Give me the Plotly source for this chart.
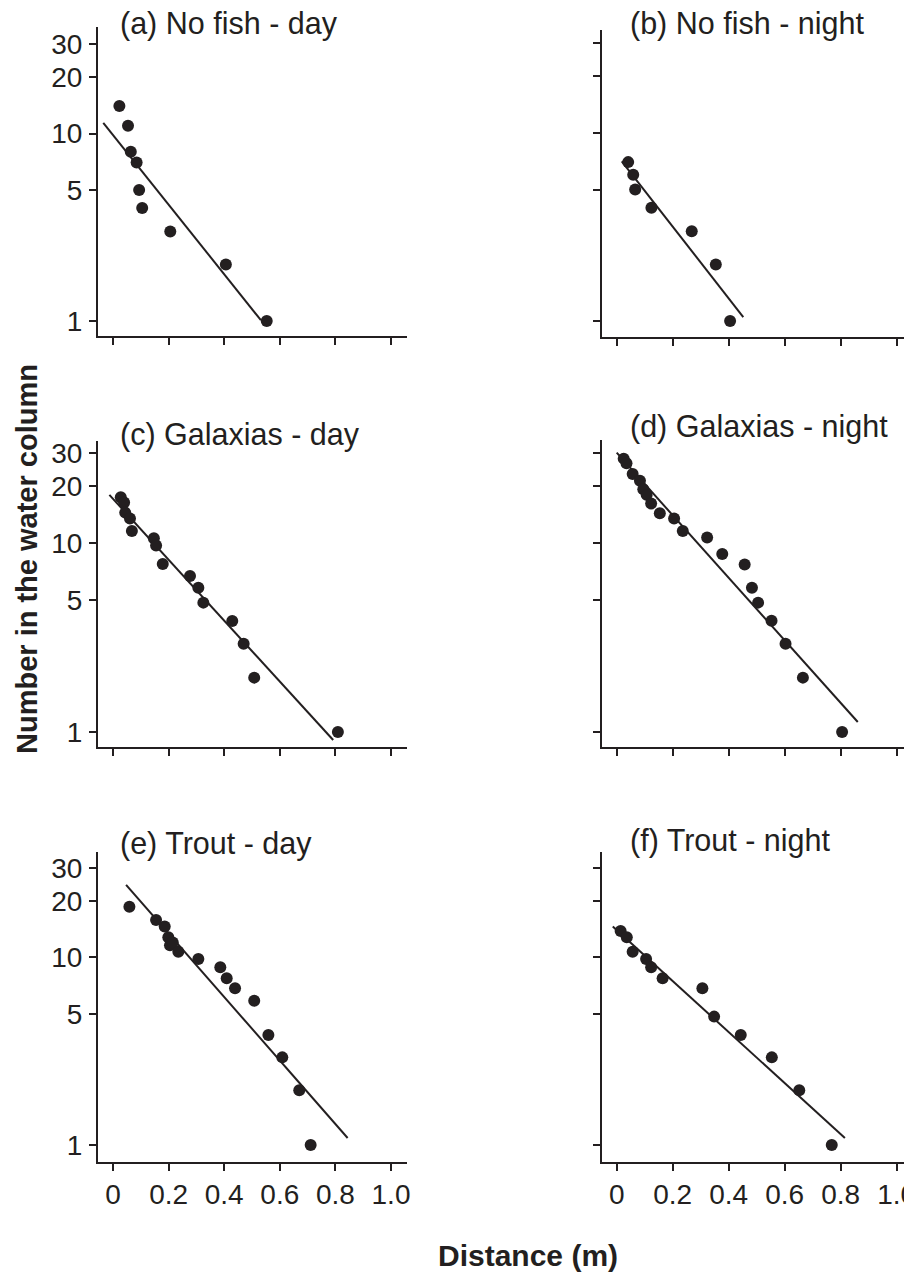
import plotly.graph_objects as go

W, H = 904, 1272

# ---------------- data ----------------
panel_titles = ["(a) No fish - day", "(b) No fish - night",
                "(c) Galaxias - day", "(d) Galaxias - night",
                "(e) Trout - day", "(f) Trout - night"]

a_x = [0.023, 0.054, 0.064, 0.085, 0.094, 0.105, 0.206, 0.406, 0.553]
a_y = [14, 11, 8, 7, 5, 4, 3, 2, 1]
a_fit_x = [-0.035, 0.532]
a_fit_y = [11.4, 1.01]

b_x = [0.041, 0.059, 0.066, 0.124, 0.268, 0.354, 0.405]
b_y = [7, 6, 5, 4, 3, 2, 1]
b_fit_x = [0.018, 0.452]
b_fit_y = [7.07, 1.05]

c_x = [0.028, 0.040, 0.044, 0.061, 0.068, 0.147, 0.155, 0.179, 0.277, 0.307,
       0.325, 0.429, 0.470, 0.508, 0.809]
c_y = [17.5, 16.4, 14.5, 13.5, 11.6, 10.6, 9.7, 7.75, 6.7, 5.8,
       4.84, 3.87, 2.93, 1.94, 1]
c_fit_x = [-0.013, 0.792]
c_fit_y = [18.0, 0.907]

d_x = [0.025, 0.035, 0.057, 0.083, 0.095, 0.107, 0.123, 0.154, 0.205, 0.236,
       0.323, 0.377, 0.457, 0.483, 0.505, 0.553, 0.603, 0.665, 0.805]
d_y = [28.0, 26.5, 23.2, 21.4, 19.3, 18.0, 16.2, 14.4, 13.5, 11.6,
       10.7, 8.75, 7.7, 5.8, 4.84, 3.88, 2.93, 1.94, 1]
d_fit_x = [0.0, 0.861]
d_fit_y = [30.1, 1.13]

e_x = [0.059, 0.155, 0.186, 0.199, 0.205, 0.215, 0.235, 0.307, 0.386, 0.409,
       0.439, 0.508, 0.559, 0.609, 0.670, 0.711]
e_y = [18.6, 15.8, 14.6, 12.8, 11.6, 12.0, 10.7, 9.8, 8.85, 7.73,
       6.84, 5.87, 3.85, 2.93, 1.96, 1]
e_fit_x = [0.047, 0.844]
e_fit_y = [24.3, 1.09]

f_x = [0.014, 0.036, 0.057, 0.105, 0.123, 0.164, 0.306, 0.348, 0.443, 0.554,
       0.652, 0.768]
f_y = [13.8, 12.8, 10.7, 9.8, 8.85, 7.73, 6.84, 4.83, 3.85, 2.93,
       1.96, 1]
f_fit_x = [-0.014, 0.815]
f_fit_y = [14.6, 1.09]

y_tickvals = [1, 5, 10, 20, 30]
y_ticktext = ["1", "5", "10", "20", "30"]
x_tickvals = [0, 0.2, 0.4, 0.6, 0.8, 1.0]
x_ticktext = ["0", "0.2", "0.4", "0.6", "0.8", "1.0"]

x_title = "Distance (m)"
y_title = "Number in the water column"

series = [(a_x, a_y, a_fit_x, a_fit_y), (b_x, b_y, b_fit_x, b_fit_y),
          (c_x, c_y, c_fit_x, c_fit_y), (d_x, d_y, d_fit_x, d_fit_y),
          (e_x, e_y, e_fit_x, e_fit_y), (f_x, f_y, f_fit_x, f_fit_y)]

# ---------------- layout geometry (pixels) ----------------
LEFT = dict(xl=(98, 407), x0=113, xu=278)
RIGHT = dict(xl=(601.7, 904), x0=616.7, xu=280)
geo = [
    dict(LEFT, yl=(27, 336), y1=321, yd=187.5, tt=(118, 24)),
    dict(RIGHT, yl=(30, 337), y1=321, yd=188.0, tt=(628, 24)),
    dict(LEFT, yl=(440.7, 746.7), y1=732, yd=188.9, tt=(118, 434)),
    dict(RIGHT, yl=(440, 746.7), y1=732, yd=188.9, tt=(628, 426)),
    dict(LEFT, yl=(852, 1161.7), y1=1145, yd=187.7, tt=(118, 843)),
    dict(RIGHT, yl=(852, 1161.7), y1=1145, yd=187.7, tt=(628, 840)),
]

INK = "#231f20"
FONT = "Liberation Sans, Arial, Helvetica, sans-serif"

fig = go.Figure()
layout = dict(
    template="none",
    width=W, height=H,
    margin=dict(l=0, r=0, t=0, b=0, pad=0),
    paper_bgcolor="white", plot_bgcolor="white",
    showlegend=False,
    font=dict(family=FONT, color=INK, size=28),
    annotations=[],
)

for i, (g, (sx, sy, fx, fy)) in enumerate(zip(geo, series)):
    n = i + 1
    xa = "xaxis" if n == 1 else f"xaxis{n}"
    ya = "yaxis" if n == 1 else f"yaxis{n}"
    xr = "x" if n == 1 else f"x{n}"
    yr = "y" if n == 1 else f"y{n}"

    xl0, xl1 = g["xl"]
    yt, yb = g["yl"]
    xdom = [xl0 / W, min(1.0, xl1 / W)]
    ydom = [1 - yb / H, 1 - yt / H]
    xrange = [(xl0 - g["x0"]) / g["xu"], (xl1 - g["x0"]) / g["xu"]]
    yrange = [(g["y1"] - yb) / g["yd"], (g["y1"] - yt) / g["yd"]]

    bottom = i >= 4
    left = i % 2 == 0

    layout[xa] = dict(
        domain=xdom, range=xrange, anchor=yr, automargin=False,
        showline=True, linecolor=INK, linewidth=2,
        ticks="outside", ticklen=7, tickwidth=2, tickcolor=INK,
        tickvals=x_tickvals, ticktext=x_ticktext,
        showticklabels=bottom, ticklabeloverflow="allow",
        tickfont=dict(size=28, color=INK, family=FONT),
        showgrid=False, zeroline=False, fixedrange=True,
    )
    layout[ya] = dict(
        domain=ydom, range=yrange, anchor=xr, type="log", automargin=False,
        showline=True, linecolor=INK, linewidth=2,
        ticks="outside", ticklen=7, tickwidth=2, tickcolor=INK,
        tickvals=y_tickvals, ticktext=y_ticktext,
        showticklabels=left, ticklabeloverflow="allow",
        ticklabelstandoff=1,
        tickfont=dict(size=28, color=INK, family=FONT),
        showgrid=False, zeroline=False, fixedrange=True,
    )

    fig.add_trace(go.Scatter(
        x=fx, y=fy, mode="lines", xaxis=xr, yaxis=yr,
        line=dict(color=INK, width=2), hoverinfo="skip"))
    fig.add_trace(go.Scatter(
        x=sx, y=sy, mode="markers", xaxis=xr, yaxis=yr,
        marker=dict(color=INK, size=12, line=dict(width=0))))

    tx, ty = g["tt"]
    layout["annotations"].append(dict(
        text=panel_titles[i], xref="paper", yref="paper",
        x=tx / W, y=1 - ty / H, xanchor="left", yanchor="middle",
        showarrow=False, font=dict(size=30.5, color=INK, family=FONT)))

layout["annotations"].append(dict(
    text=f"<b>{y_title}</b>", xref="paper", yref="paper",
    x=27 / W, y=1 - 559 / H, xanchor="center", yanchor="middle",
    textangle=-90, showarrow=False,
    font=dict(size=29, color=INK, family=FONT)))
layout["annotations"].append(dict(
    text=f"<b>{x_title}</b>", xref="paper", yref="paper",
    x=528 / W, y=1 - 1255 / H, xanchor="center", yanchor="middle",
    showarrow=False, font=dict(size=30, color=INK, family=FONT)))

fig.update_layout(**layout)
fig.write_html(
    "out.html",
    config={"displayModeBar": False},
    post_script="document.body.style.margin='0';document.body.style.overflow='hidden';",
)
